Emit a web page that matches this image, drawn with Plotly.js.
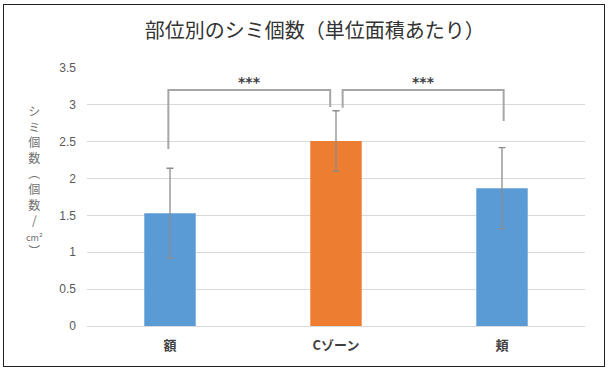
<!DOCTYPE html>
<html><head><meta charset="utf-8">
<script src="https://cdn.plot.ly/plotly-3.0.1.min.js"></script>
<style>
html,body{margin:0;padding:0;background:#fff;}
#wrap{position:relative;width:609px;height:369px;}
#chart{position:absolute;left:0;top:0;width:609px;height:369px;}
#frame{position:absolute;left:3px;top:4px;width:600px;height:361px;border:1.5px solid #222;pointer-events:none;}
</style></head>
<body>
<div id="wrap"><div id="chart"></div><div id="frame"></div></div>
<script>
const categories = ['額', 'Cゾーン', '頬'];
const values = [1.53, 2.51, 1.87];
const errors = [0.61, 0.41, 0.55];
const barColors = ['#5B9BD5', '#ED7D31', '#5B9BD5'];
const yTicks = [0, 0.5, 1, 1.5, 2, 2.5, 3, 3.5];
const yTickText = ['0', '0.5', '1', '1.5', '2', '2.5', '3', '3.5'];
// significance brackets
const brackets = [
  {x0: -0.01, x1: 0.965, y0: 2.40, y1: 2.97, top: 3.20, label: '***'},
  {x0: 1.04, x1: 2.01, y0: 2.96, y1: 2.78, top: 3.20, label: '***'}
];

const trace = {
  type: 'bar',
  x: categories,
  y: values,
  width: 0.31,
  marker: {color: barColors},
  error_y: {type: 'data', array: errors, visible: true, color: '#8c8c8c', thickness: 1.3, width: 3.5},
  hoverinfo: 'none'
};

const shapes = brackets.map(b => ({
  type: 'path', xref: 'x', yref: 'y',
  path: `M ${b.x0} ${b.y0} L ${b.x0} ${b.top} L ${b.x1} ${b.top} L ${b.x1} ${b.y1}`,
  line: {color: '#a6a6a6', width: 2}
}));

const annotations = brackets.map(b => ({
  xref: 'x', yref: 'y', x: (b.x0 + b.x1) / 2, y: b.top + 0.11,
  text: '<b>' + b.label + '</b>', showarrow: false,
  font: {family: 'DejaVu Sans, sans-serif', size: 14, color: '#404040'}
}));

annotations.push({
  xref: 'paper', yref: 'paper', x: -0.105, y: 0.565, xanchor: 'center', yanchor: 'middle',
  text: 'シ<br>ミ<br>個<br>数<br>︵<br>個<br>数<br>/<br><span style="font-size:9px">cm²</span><br>︶', showarrow: false, align: 'center',
  font: {family: 'Noto Sans CJK JP, sans-serif', size: 12, color: '#707070'}
});

const layout = {
  width: 609, height: 369,
  margin: {l: 87, r: 24, t: 68, b: 43},
  paper_bgcolor: '#ffffff', plot_bgcolor: '#ffffff',
  title: {text: '部位別のシミ個数（単位面積あたり）', x: 0.517, xanchor: 'center', y: 0.915, yanchor: 'middle',
    font: {family: 'Noto Sans CJK JP, sans-serif', size: 20, color: '#333333'}},
  showlegend: false,
  xaxis: {type: 'category', showgrid: false, zeroline: false, ticks: '', showline: false, ticklabelstandoff: 10,
    tickfont: {family: 'Noto Sans CJK JP, sans-serif', size: 13, color: '#404040', weight: 'bold'}},
  yaxis: {range: [0, 3.5], tickvals: yTicks, ticktext: yTickText, showgrid: true, gridcolor: '#d9d9d9', gridwidth: 1,
    zeroline: true, zerolinecolor: '#d9d9d9', zerolinewidth: 1, ticks: '', showline: false, ticklabelstandoff: 10,
    tickfont: {family: 'Liberation Sans, sans-serif', size: 12, color: '#595959'}},
  shapes: shapes,
  annotations: annotations
};

Plotly.newPlot('chart', [trace], layout, {displayModeBar: false, staticPlot: true});
</script>
</body></html>
